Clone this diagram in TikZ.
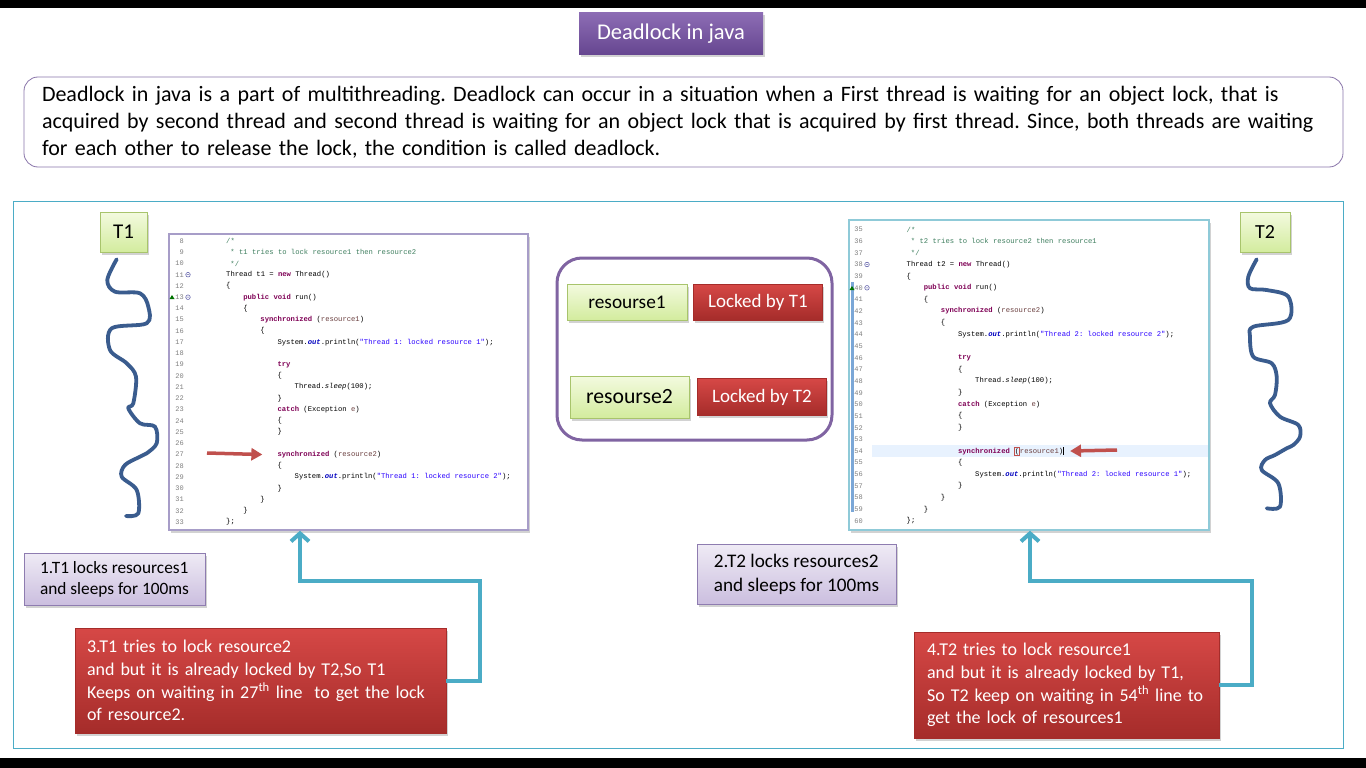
\documentclass[tikz,border=0pt]{standalone}
\usepackage{fontspec}
\setmainfont{Carlito}
\newfontfamily\codefont{Liberation Mono}
\usetikzlibrary{arrows.meta, positioning, shadows}
\frenchspacing

\definecolor{titletop}{HTML}{8C6CB4}
\definecolor{titlebot}{HTML}{664690}
\definecolor{descborder}{HTML}{8A76AA}
\definecolor{framec}{HTML}{4BACC6}
\definecolor{greentop}{HTML}{F3FADF}
\definecolor{greenbot}{HTML}{D3EC9E}
\definecolor{greenborder}{HTML}{A8C46C}
\definecolor{redtop}{HTML}{D64846}
\definecolor{redbot}{HTML}{A52C2A}
\definecolor{notetop}{HTML}{EFEBF5}
\definecolor{notebot}{HTML}{CBBEDF}
\definecolor{noteborder}{HTML}{8E7CB0}
\definecolor{lockborder}{HTML}{8064A2}
\definecolor{wavec}{HTML}{3A5C8E}
\definecolor{arrowred}{HTML}{C0504D}
\definecolor{panelL}{HTML}{A79DC8}
\definecolor{panelR}{HTML}{8FCAD8}
\definecolor{jkwc}{HTML}{7F0055}
\definecolor{jstrc}{HTML}{2A00FF}
\definecolor{jcmtc}{HTML}{3F7F5F}
\definecolor{joutc}{HTML}{0000C0}
\definecolor{jvarc}{HTML}{6A3E3E}
\definecolor{lnumc}{HTML}{808080}
\definecolor{hlc}{HTML}{E8F2FE}
\definecolor{markbar}{HTML}{7BA7D7}

\newcommand{\jkw}[1]{\textcolor{jkwc}{\bfseries #1}}
\newcommand{\jstr}[1]{\textcolor{jstrc}{#1}}
\newcommand{\jcmt}[1]{\textcolor{jcmtc}{#1}}
\newcommand{\jout}[1]{\textcolor{joutc}{\bfseries\itshape #1}}
\newcommand{\jit}[1]{{\itshape #1}}
\newcommand{\jvar}[1]{\textcolor{jvarc}{#1}}
\setlength{\fboxsep}{0.2pt}
\setlength{\fboxrule}{0.5pt}

\tikzstyle{shadowed} = [drop shadow={shadow xshift=1.5pt, shadow yshift=-2.5pt, opacity=0.35}]
\tikzstyle{titlebox} = [shadowed, top color=titletop, bottom color=titlebot, text=white, minimum width=184pt, minimum height=42pt, inner sep=0pt, font=\fontsize{22.5}{26}\selectfont]
\tikzstyle{descbox} = [draw=descborder, line width=0.8pt, rounded corners=14pt, fill=white, align=left, text width=1283pt, inner xsep=18pt, minimum height=90pt, font=\fontsize{22}{27}\selectfont]
\tikzstyle{greenbox} = [shadowed, draw=greenborder, top color=greentop, bottom color=greenbot, inner sep=0pt]
\tikzstyle{redbox} = [shadowed, draw=redbot, top color=redtop, bottom color=redbot, text=white, inner sep=0pt]
\tikzstyle{notebox} = [shadowed, draw=noteborder, top color=notetop, bottom color=notebot, align=left, inner sep=0pt]
\tikzstyle{panel} = [shadowed, fill=white, line width=1.4pt, inner sep=0pt]
\tikzstyle{codeline} = [anchor=west, inner sep=0pt, font=\codefont\fontsize{7.2}{8}\selectfont]
\tikzstyle{lnum} = [anchor=east, inner sep=0pt, text=lnumc, font=\codefont\fontsize{7}{8}\selectfont]
\tikzstyle{wave} = [draw=wavec, line width=3.8pt, line cap=round, line join=round]
\tikzstyle{tealarrow} = [draw=framec, line width=4pt, -{Straight Barb[length=8pt, width=18pt]}]
\tikzstyle{redarrow} = [draw=arrowred, line width=3.5pt, -{Triangle[length=11pt, width=12pt]}]

\begin{document}
\begin{tikzpicture}[x=1pt, y=-1pt, >=Latex]

\useasboundingbox (0,0) rectangle (1366,768);
\fill[white] (0,0) rectangle (1366,768);
\fill[black] (0,0) rectangle (1366,8);
\fill[black] (0,758) rectangle (1366,768);

% header
\node[titlebox] (title) at (671,34) {Deadlock in java};
\node[descbox] (desc) at (683.5,122) {Deadlock in java is a part of multithreading. Deadlock can occur in a situation when a First thread is waiting for an object lock, that is\\
acquired by second thread and second thread is waiting for an object lock that is acquired by first thread. Since, both threads are waiting\\
for each other to release the lock, the condition is called deadlock.};

\draw[framec, line width=1pt] (13,201) rectangle (1343,748);

% threads
\node[greenbox, minimum width=47pt, minimum height=40pt, font=\fontsize{21}{24}\selectfont] (T1) at (123.5,232) {T1};
\node[greenbox, minimum width=50pt, minimum height=40pt, font=\fontsize{20}{24}\selectfont] (T2) at (1265,232) {T2};

\draw[wave] plot[smooth, tension=0.55] coordinates {(116.7,259.3) (107.3,280) (115,291.7) (140,293.3) (148.3,306.7) (146.7,323.3) (111.7,328.3) (110,350) (126.7,363.3) (136,376.7) (133.3,403.3) (128.3,408.3) (140,423.3) (155,426.7) (156.7,443.3) (146.7,453.3) (140,456.7) (125,465) (121.7,476.7) (136.7,490) (138.3,513.3) (126,516)};
\draw[wave] plot[smooth, tension=0.55] coordinates {(1256.7,259.3) (1248.3,276.7) (1250,288.3) (1266.7,290) (1288.3,296.7) (1288.3,320) (1253.3,326.7) (1250,336.7) (1253.3,356.7) (1271.7,363.3) (1276.7,376.7) (1275,395) (1270,403.3) (1280,416.7) (1298.3,425) (1300,436.7) (1293.3,445) (1286.7,448.3) (1275,455) (1265,460) (1261.7,470) (1278.3,483.3) (1280,506.7) (1266.7,508.3)};

% code of thread 1
\node[panel, draw=panelL, minimum width=359pt, minimum height=296pt] (codeL) at (348.5,382) {};
\foreach \n in {8,...,33}
  \node[lnum] (nl\n) at (184,{241+(\n-8)*11.24}) {\n};
\foreach \n/\i/\txt in {8/0/{\jcmt{/*}}, 9/1/{\jcmt{* t1 tries to lock resource1 then resource2}}, 10/1/{\jcmt{*/}},
    11/0/{Thread t1 = \jkw{new} Thread()}, 12/0/{\{}, 13/4/{\jkw{public void} run()}, 14/4/{\{},
    15/8/{\jkw{synchronized} (\jvar{resource1})}, 16/8/{\{},
    17/12/{System.\jout{out}.println(\jstr{"Thread 1: locked resource 1"});},
    19/12/{\jkw{try}}, 20/12/{\{}, 21/16/{Thread.\jit{sleep}(100);}, 22/12/{\}},
    23/12/{\jkw{catch} (Exception \jvar{e})}, 24/12/{\{}, 25/12/{\}},
    27/12/{\jkw{synchronized} (\jvar{resource2})}, 28/12/{\{},
    29/16/{System.\jout{out}.println(\jstr{"Thread 1: locked resource 2"});},
    30/12/{\}}, 31/8/{\}}, 32/4/{\}}, 33/0/{\};}}
  \node[codeline] (cl\n) at ({226+\i*4.28},{241+(\n-8)*11.24}) {\txt};
\foreach \y in {274.7,297.2}
  \draw[lnumc!70!blue, line width=0.5pt] (188,\y) circle (2.3) (186.8,\y) -- (189.2,\y);
\fill[green!45!black] (169.5,299) -- (172,295) -- (174.5,299) -- cycle;

% code of thread 2
\node[panel, draw=panelR, minimum width=360pt, minimum height=310pt] (codeR) at (1029,375) {};
\fill[markbar] (850.5,282) rectangle (853.5,512);
\fill[hlc] (872,445.2) rectangle (1208,456.8);
\foreach \n in {35,...,60}
  \node[lnum] (nr\n) at (863,{229.5+(\n-35)*11.66}) {\n};
\foreach \n/\i/\txt in {35/0/{\jcmt{/*}}, 36/1/{\jcmt{* t2 tries to lock resource2 then resource1}}, 37/1/{\jcmt{*/}},
    38/0/{Thread t2 = \jkw{new} Thread()}, 39/0/{\{}, 40/4/{\jkw{public void} run()}, 41/4/{\{},
    42/8/{\jkw{synchronized} (\jvar{resource2})}, 43/8/{\{},
    44/12/{System.\jout{out}.println(\jstr{"Thread 2: locked resource 2"});},
    46/12/{\jkw{try}}, 47/12/{\{}, 48/16/{Thread.\jit{sleep}(100);}, 49/12/{\}},
    50/12/{\jkw{catch} (Exception \jvar{e})}, 51/12/{\{}, 52/12/{\}},
    54/12/{\jkw{synchronized} \fcolorbox{arrowred}{hlc}{(}\jvar{resource1})\rule[-1.5pt]{0.7pt}{8pt}}, 55/12/{\{},
    56/16/{System.\jout{out}.println(\jstr{"Thread 2: locked resource 1"});},
    57/12/{\}}, 58/8/{\}}, 59/4/{\}}, 60/0/{\};}}
  \node[codeline] (cr\n) at ({906.5+\i*4.28},{229.5+(\n-35)*11.66}) {\txt};
\foreach \y in {264.5,287.8}
  \draw[lnumc!70!blue, line width=0.5pt] (867,\y) circle (2.3) (865.8,\y) -- (868.2,\y);
\fill[green!45!black] (849.5,290) -- (852,286) -- (854.5,290) -- cycle;

% pointers to the blocking lines
\coordinate (p1) at (207,453);
\coordinate (p2) at (1117,450);
\draw[redarrow] (p1) -- ([xshift=-15pt]cl27.west);
\draw[redarrow] (p2) -- ([xshift=6pt]cr54.east);

% lock table
\node[draw=lockborder, line width=3pt, rounded corners=25pt, minimum width=275pt, minimum height=182pt] (locks) at (694.5,349) {};
\node[greenbox, minimum width=120pt, minimum height=36pt, font=\fontsize{19.3}{22}\selectfont] (res1) at (627,302) {resourse1};
\node[redbox, minimum width=129pt, minimum height=36pt, font=\fontsize{19}{22}\selectfont] (lock1) [right=6pt of res1] {Locked by T1};
\node[greenbox, minimum width=119pt, minimum height=42pt, font=\fontsize{21.7}{24}\selectfont] (res2) at (629.5,397) {resourse2};
\node[redbox, minimum width=129pt, minimum height=37pt, font=\fontsize{19}{22}\selectfont] (lock2) [right=8pt of res2] {Locked by T2};

% steps
\node[notebox, minimum width=181pt, minimum height=52pt, font=\fontsize{17.3}{21}\selectfont] (step1) at (114.5,579) {1.T1 locks resources1\\and sleeps for 100ms};
\node[notebox, minimum width=199pt, minimum height=60pt, font=\fontsize{19.2}{24}\selectfont] (step2) at (796.5,574) {2.T2 locks resources2\\and sleeps for 100ms};
\node[redbox, align=left, text width=347pt, inner xsep=12pt, minimum height=105pt, font=\fontsize{18}{22.7}\selectfont] (step3) at (260.5,680.5) {3.T1 tries to lock resource2\\and but it is already locked by T2,So T1\\Keeps on waiting in 27\textsuperscript{th} line\ \ to get the lock\\of resource2.};
\node[redbox, align=left, text width=279pt, inner xsep=13pt, minimum height=106pt, font=\fontsize{18}{22.7}\selectfont] (step4) at (1066.5,685) {4.T2 tries to lock resource1\\and but it is already locked by T1,\\So T2 keep on waiting in 54\textsuperscript{th} line to\\get the lock of resources1};

\coordinate (bendL) at (480,581);
\coordinate (bendR) at (1252,581);
\draw[tealarrow] (step3.east) -| (bendL) -| ([xshift=-48.5pt]codeL.south);
\draw[tealarrow] (step4.east) -| (bendR) -| ([xshift=1pt]codeR.south);

\end{tikzpicture}
\end{document}
